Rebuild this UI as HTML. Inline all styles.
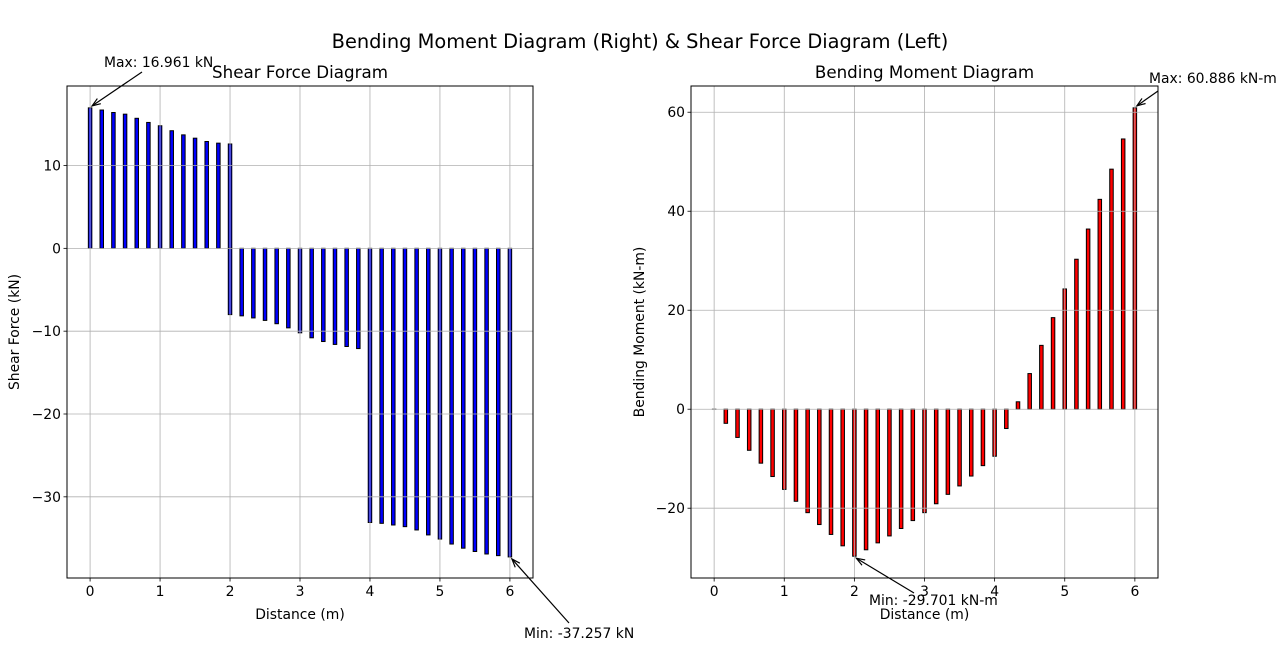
<!DOCTYPE html>
<html><head><meta charset="utf-8"><style>
body{margin:0;background:#fff;}
svg text{font-family:"DejaVu Sans","Liberation Sans",sans-serif;fill:#000;}
</style></head><body>
<svg id="fig" width="1280" height="660" xmlns="http://www.w3.org/2000/svg">
<text x="640" y="48" font-size="19.4" text-anchor="middle">Bending Moment Diagram (Right) &amp; Shear Force Diagram (Left)</text>
</svg>
<script>
const sfPositions = [0,1/6,2/6,3/6,4/6,5/6,1,7/6,8/6,9/6,10/6,11/6,2,
  2,13/6,14/6,15/6,16/6,17/6,3,19/6,20/6,21/6,22/6,23/6,
  4,25/6,26/6,27/6,28/6,29/6,5,31/6,32/6,33/6,34/6,35/6,6];
const sfValues = [16.961,16.7,16.4,16.2,15.7,15.2,14.8,14.2,13.7,13.3,12.9,12.7,12.6,
  -8.0,-8.15,-8.4,-8.7,-9.1,-9.6,-10.2,-10.8,-11.25,-11.6,-11.85,-12.1,
  -33.1,-33.2,-33.4,-33.6,-34.0,-34.6,-35.1,-35.7,-36.2,-36.6,-36.9,-37.1,-37.257];
const bmPositions = [0,1/6,2/6,3/6,4/6,5/6,1,7/6,8/6,9/6,10/6,11/6,2,13/6,14/6,15/6,16/6,17/6,3,19/6,20/6,21/6,22/6,23/6,4,25/6,26/6,27/6,28/6,29/6,5,31/6,32/6,33/6,34/6,35/6,6];
const bmValues = [0,-2.85,-5.7,-8.3,-10.9,-13.6,-16.2,-18.6,-20.9,-23.3,-25.3,-27.6,-29.701,-28.4,-27.0,-25.6,-24.1,-22.5,-20.9,-19.1,-17.2,-15.5,-13.5,-11.4,-9.5,-3.9,1.5,7.2,12.9,18.5,24.3,30.3,36.4,42.4,48.5,54.6,60.886];
const xTicks = [0,1,2,3,4,5,6];
const sfYTicks = [10,0,-10,-20,-30];
const bmYTicks = [60,40,20,0,-20];
const sfYTickLabels = ["10","0","\u221210","\u221220","\u221230"];
const bmYTickLabels = ["60","40","20","0","\u221220"];

const NS="http://www.w3.org/2000/svg";
const fig=document.getElementById('fig');
function mk(tag,attrs,parent){const e=document.createElementNS(NS,tag);for(const k in attrs)e.setAttribute(k,attrs[k]);(parent||fig).appendChild(e);return e;}
const FS=13.9, TFS=16.7;
function panel(o){
  const sx=v=>o.L+(v-o.x0)/(o.x1-o.x0)*(o.R-o.L);
  const sy=v=>o.B-(v-o.y0)/(o.y1-o.y0)*(o.B-o.T);
  const g=mk('g',{});
  
  
  const bw=0.05*(o.R-o.L)/(o.x1-o.x0);
  o.pos.forEach((p,i)=>{
    const v=o.vals[i];const y=Math.min(sy(v),sy(0));const h=Math.abs(sy(v)-sy(0));
    const r=mk('rect',{x:sx(p)-bw/2,y:y,width:bw,height:Math.max(h,0.01),fill:o.color,stroke:'#000','stroke-width':1},g);
    
    
  });
  xTicks.forEach(t=>{
    const l=mk('line',{x1:sx(t),x2:sx(t),y1:o.T,y2:o.B,stroke:'#b0b0b0','stroke-width':0.8},g);
    
    
    mk('line',{x1:sx(t),x2:sx(t),y1:o.B,y2:o.B+3.5,stroke:'#000','stroke-width':0.8},g);
    const tx=mk('text',{x:sx(t),y:o.B+18,'font-size':FS,'text-anchor':'middle'},g);tx.textContent=t;
    
    
  });
  o.yt.forEach((t,i)=>{
    const l=mk('line',{x1:o.L,x2:o.R,y1:sy(t),y2:sy(t),stroke:'#b0b0b0','stroke-width':0.8},g);
    
    
    mk('line',{x1:o.L-3.5,x2:o.L,y1:sy(t),y2:sy(t),stroke:'#000','stroke-width':0.8},g);
    const tx=mk('text',{x:o.L-6,y:sy(t)+5,'font-size':FS,'text-anchor':'end'},g);tx.textContent=o.ytl[i];
    
    
  });
  const fr=mk('rect',{x:o.L,y:o.T,width:o.R-o.L,height:o.B-o.T,fill:'none',stroke:'#000','stroke-width':1},g);
  
  
  const ti=mk('text',{x:(o.L+o.R)/2,y:o.T-8,'font-size':TFS,'text-anchor':'middle'},g);ti.textContent=o.title;
  
  
  const xl=mk('text',{x:(o.L+o.R)/2,y:o.B+41,'font-size':FS,'text-anchor':'middle'},g);xl.textContent='Distance (m)';
  
  
  const yx=o.ylx, yy=(o.T+o.B)/2;
  const yl=mk('text',{x:yx,y:yy,'font-size':FS,'text-anchor':'middle',transform:`rotate(-90 ${yx} ${yy})`},g);yl.textContent=o.ylabel;
  
  
  o.ann.forEach(a=>{
    const p=o.pos[a.i],v=o.vals[a.i];const px=sx(p)+2,py=sy(v)+(v>0?-2:2);
    mk('line',{x1:a.tx,y1:a.ty,x2:px,y2:py,stroke:'#000','stroke-width':1.2},g);
    const ang=Math.atan2(py-a.ty,px-a.tx);
    const h1=[px-9*Math.cos(ang-0.35),py-9*Math.sin(ang-0.35)],h2=[px-9*Math.cos(ang+0.35),py-9*Math.sin(ang+0.35)];
    mk('polyline',{points:`${h1} ${px},${py} ${h2}`,fill:'none',stroke:'#000','stroke-width':1.2},g);
    const t=mk('text',{x:a.lx,y:a.ly,'font-size':FS},g);t.textContent=a.label;
    
    
  });
}
panel({name:'shear-force',L:67,R:533,T:86,B:578,x0:-0.33,x1:6.33,y0:-39.8,y1:19.6,pos:sfPositions,vals:sfValues,color:'#0000ff',
  yt:sfYTicks,ytl:sfYTickLabels,title:'Shear Force Diagram',ylabel:'Shear Force (kN)',ylx:19,
  ann:[{i:0,tx:142,ty:72,lx:104,ly:67,label:'Max: 16.961 kN'},{i:37,tx:569,ty:623,lx:524,ly:638,label:'Min: -37.257 kN'}]});
panel({name:'bending-moment',L:691,R:1158,T:86,B:578,x0:-0.33,x1:6.33,y0:-34.1,y1:65.3,pos:bmPositions,vals:bmValues,color:'#ff0000',
  yt:bmYTicks,ytl:bmYTickLabels,title:'Bending Moment Diagram',ylabel:'Bending Moment (kN-m)',ylx:644,
  ann:[{i:36,tx:1158,ty:91,lx:1149,ly:83,label:'Max: 60.886 kN-m'},{i:12,tx:914,ty:593,lx:869,ly:605,label:'Min: -29.701 kN-m'}]});
</script>
</body></html>
